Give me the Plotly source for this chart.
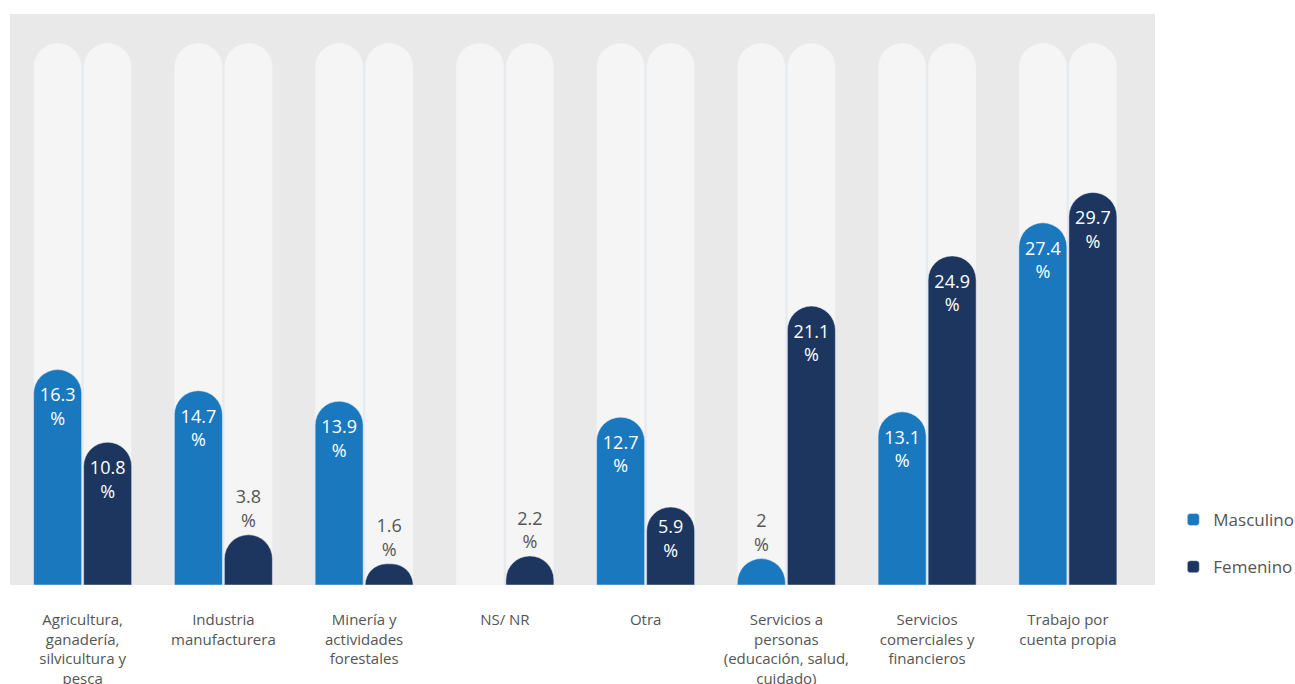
import plotly.graph_objects as go

CATEGORIES = [
    "Agricultura, ganadería, silvicultura y pesca",
    "Industria manufacturera",
    "Minería y actividades forestales",
    "NS/ NR",
    "Otra",
    "Servicios a personas (educación, salud, cuidado)",
    "Servicios comerciales y financieros",
    "Trabajo por cuenta propia",
]
TICK_LABELS = [
    "Agricultura,<br>ganadería,<br>silvicultura y<br>pesca",
    "Industria<br>manufacturera",
    "Minería y<br>actividades<br>forestales",
    "NS/ NR",
    "Otra",
    "Servicios a<br>personas<br>(educación, salud,<br>cuidado)",
    "Servicios<br>comerciales y<br>financieros",
    "Trabajo por<br>cuenta propia",
]
MASCULINO = [16.3, 14.7, 13.9, None, 12.7, 2, 13.1, 27.4]
FEMENINO = [10.8, 3.8, 1.6, 2.2, 5.9, 21.1, 24.9, 29.7]
TRACK_MAX = 41.0
Y_MAX = 43.2
X_RANGE = [-0.516, 7.619]

C_MASC = "#1a78bf"
C_FEM = "#1c365f"
C_TRACK = "#f5f5f5"
C_BG = "#e9e9e9"
C_TEXT = "#555555"
FONT = "Open Sans"


def labels(vals):
    return ["" if v is None else f"{v:g}<br>%" for v in vals]


def positions(vals):
    return ["inside" if (v is not None and v >= 5) else "outside" for v in vals]


fig = go.Figure()
# background tracks on the base subplot
for _ in range(2):
    fig.add_trace(go.Bar(
        x=CATEGORIES, y=[TRACK_MAX] * len(CATEGORIES),
        marker=dict(color=C_TRACK, cornerradius="50%"),
        showlegend=False, hoverinfo="skip", xaxis="x", yaxis="y",
    ))

# data bars on the overlaid subplot (drawn on top)
for name, vals, color in [("Masculino", MASCULINO, C_MASC),
                          ("Femenino", FEMENINO, C_FEM)]:
    fig.add_trace(go.Bar(
        x=CATEGORIES, y=vals, name=name, legendgroup=name,
        xaxis="x2", yaxis="y2",
        marker=dict(color=color, cornerradius="50%"),
        text=labels(vals), textposition=positions(vals),
        insidetextanchor="end",
        insidetextfont=dict(color="#ffffff", size=18, family=FONT),
        outsidetextfont=dict(color=C_TEXT, size=18, family=FONT),
        textangle=0, cliponaxis=False,
    ))

hidden_y = dict(range=[0, Y_MAX], showgrid=False, zeroline=False,
                showticklabels=False, ticks="", showline=False)

fig.update_layout(
    width=1295, height=684,
    margin=dict(l=10, r=140, t=14, b=99, autoexpand=False),
    paper_bgcolor="#ffffff", plot_bgcolor=C_BG,
    barmode="group", bargap=0.2895, bargroupgap=0.04,
    font=dict(family=FONT, color=C_TEXT, size=15),
    legend=dict(
        x=1.016, xanchor="left", y=0.0, yanchor="bottom",
        font=dict(size=17, color=C_TEXT, family=FONT),
        tracegroupgap=22, traceorder="grouped",
        bgcolor="rgba(0,0,0,0)",
    ),
    xaxis=dict(
        tickmode="array", tickvals=CATEGORIES, ticktext=TICK_LABELS,
        range=X_RANGE, showgrid=False, zeroline=False,
        showline=False, ticks="", ticklabelstandoff=24,
        tickfont=dict(size=15, color=C_TEXT, family=FONT),
    ),
    xaxis2=dict(overlaying="x", matches="x", range=X_RANGE, visible=False),
    yaxis=hidden_y,
    yaxis2=dict(overlaying="y", **hidden_y),
)

fig.write_html(
    "out.html",
    config={"displayModeBar": False},
    post_script="document.body.style.margin='0';document.body.style.overflow='hidden';",
)
